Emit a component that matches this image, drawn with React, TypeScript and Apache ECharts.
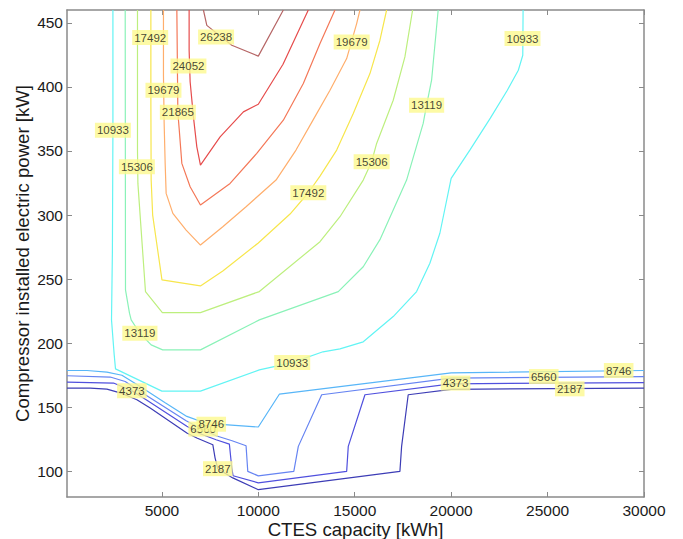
import React, { useEffect, useRef } from 'react';
import * as echarts from 'echarts';

// Contour levels and their colours (jet-like)
const levels = [2187, 4373, 6560, 8746, 10933, 13119, 15306, 17492, 19679, 21865, 24052, 26238];
const levelColors = ['#3d3db6', '#5050de', '#6684f2', '#58b6f8', '#62f4f4', '#8af2b8', '#bdef7e', '#f7e64c', '#ffae6c', '#f47858', '#e64c4c', '#b66666'];

// Contour lines [CTES capacity kWh, compressor power kW]
const c2187 = [[80, 165], [1285, 165], [2150, 164.2], [2839, 161.3], [3704, 155.9], [4393, 149.4], [6294, 129.9], [6812, 126], [7641, 120.8], [7760, 110.4], [7900, 102.1], [8677, 94.9], [10000, 85.7], [17343, 100], [17431, 119.5], [17773, 159.8], [20000, 164], [30000, 165]];
const c4373 = [[80, 169.7], [2492, 168.9], [3445, 162.9], [4185, 155.9], [6294, 135.2], [6983, 129.4], [7811, 124.7], [8500, 121.3], [8625, 102.6], [8692, 96.6], [10000, 91], [14582, 100], [14665, 119.5], [15530, 159.8], [20000, 168.3], [30000, 169.3]];
const c6560 = [[80, 174.6], [2321, 173.6], [3098, 170.1], [3875, 162.3], [6257, 139.5], [7034, 133.3], [7811, 127.8], [8640, 123.9], [9365, 120], [9454, 100], [10000, 96.5], [11841, 100], [12075, 119.5], [13287, 159.8], [20000, 172.8], [30000, 174]];
const c8746 = [[80, 178.7], [1114, 178.7], [2150, 177.5], [2927, 175], [3875, 166.2], [5170, 153.5], [6294, 142.9], [7501, 136.4], [8241, 136.4], [10000, 134.6], [11090, 160.2], [20000, 176.9], [30000, 178.7]];
const c10933 = [[2461, 460], [2461, 366], [2435, 272.7], [2388, 218.2], [2528, 190.9], [2595, 180], [4999, 162.6], [7000, 162.6], [10054, 179.2], [11759, 184.9], [13354, 193.3], [14235, 195.6], [15442, 201.1], [16996, 220.8], [18208, 240.3], [18897, 262.4], [19415, 285.8], [20000, 328.6], [20969, 350.7], [22032, 375.6], [22913, 397.4], [23483, 413], [23714, 424.7], [23730, 460]];
const c13119 = [[3098, 460], [3113, 241.6], [3320, 223.4], [3408, 218.2], [3859, 207.8], [4444, 198.7], [5040, 194.8], [7000, 194.8], [10054, 218.2], [14147, 240.3], [15442, 259.7], [16307, 280.8], [17690, 327.3], [18550, 371.5], [18726, 385.7], [18985, 405.2], [19327, 460]];
const c15306 = [[3735, 460], [3735, 350.7], [3756, 324.7], [4149, 240.3], [5025, 223.9], [7000, 223.9], [10054, 240.3], [13199, 279.2], [14235, 298.7], [15442, 327.3], [15877, 341.6], [16136, 355.9], [16996, 389.6], [17602, 423.4], [18001, 460]];
const c17492 = [[4429, 460], [4429, 389.6], [4444, 327.3], [4522, 300], [5004, 249.4], [7000, 244.7], [8159, 256.4], [10000, 278.2], [11645, 300.8], [12593, 317.4], [13199, 330.4], [14064, 350.7], [14924, 379.3], [15789, 410.4], [16307, 436.4], [16654, 460]];
const c19679 = [[5082, 460], [5082, 409], [5118, 371.5], [5170, 340.3], [5221, 316.9], [5569, 301.3], [6257, 288.3], [7000, 276.6], [8159, 290.9], [9365, 306.5], [10919, 327.3], [11955, 350.7], [12836, 374.1], [13717, 397.4], [14582, 422.1], [15100, 449.4], [15271, 460]];
const c21865 = [[5776, 460], [5828, 380], [5895, 367.6], [6035, 340.3], [6465, 322.1], [7000, 307.8], [8537, 324.7], [9920, 348.1], [11298, 374], [12334, 402.6], [13199, 433.8], [13976, 460]];
const c24052 = [[6413, 460], [6413, 428.6], [6465, 404], [6636, 376.6], [6812, 353.2], [7000, 339], [8019, 361], [9226, 380.5], [10000, 386.5], [11282, 417.7], [12593, 460]];
const c26238 = [[7154, 460], [7330, 448], [8625, 432.5], [10000, 424], [11298, 460]];
const contours = [c2187, c4373, c6560, c8746, c10933, c13119, c15306, c17492, c19679, c21865, c24052, c26238];

// Inline contour labels [x, y, level]
const labelPoints = [
  [7811, 439, 26238],
  [6377, 416.4, 24052],
  [5828, 380.3, 21865],
  [5082, 397.4, 19679],
  [14841, 435, 19679],
  [4393, 438.5, 17492],
  [12593, 317.4, 17492],
  [3704, 337.7, 15306],
  [15877, 341.6, 15306],
  [3859, 207.8, 13119],
  [18726, 385.7, 13119],
  [2461, 366.2, 10933],
  [11759, 184.9, 10933],
  [23699, 437.7, 10933],
  [28687, 178.7, 8746],
  [24802, 174, 6560],
  [3445, 162.9, 4373],
  [20228, 168.9, 4373],
  [7900, 102.1, 2187],
  [26149, 164.4, 2187],
  [7140, 133.0, 6560],
  [7560, 136.8, 8746],
];

const xTicks = [5000, 10000, 15000, 20000, 25000, 30000];
const yTicks = [100, 150, 200, 250, 300, 350, 400, 450];

const FONT = 'Liberation Sans, Arial, Helvetica, sans-serif';
const AXIS_COLOR = '#8a8a8a';

export default function App() {
  const ref = useRef<HTMLDivElement>(null);
  useEffect(() => {
    if (!ref.current) return;
    const chart = echarts.init(ref.current, undefined, { renderer: 'svg' });
    const axisLine = { show: true, onZero: false, lineStyle: { color: AXIS_COLOR, width: 1.5 } };
    const tick = (vals: number[]) => ({ show: true, inside: true, length: 5, customValues: vals, lineStyle: { color: AXIS_COLOR, width: 1 } });
    const lineSeries = contours.map((pts, i) => ({
      type: 'line',
      name: String(levels[i]),
      data: pts,
      showSymbol: false,
      symbol: 'none',
      silent: true,
      z: 2,
      lineStyle: { color: levelColors[i], width: 1.2 },
    }));
    const labelSeries = {
      type: 'scatter',
      silent: true,
      z: 5,
      symbolSize: 1,
      itemStyle: { color: 'rgba(0,0,0,0)' },
      data: labelPoints.map((p) => ({ value: p })),
      label: {
        show: true,
        position: 'inside',
        formatter: (p: any) => String(p.value[2]),
        backgroundColor: '#fcf98e',
        padding: [2, 2, 1, 2],
        color: '#151515',
        fontSize: 11.5,
        lineHeight: 12,
        fontFamily: FONT,
        textBorderWidth: 0,
      },
    };
    chart.setOption({
      animation: false,
      backgroundColor: '#ffffff',
      grid: { left: 67, right: 39, top: 10, bottom: 42, containLabel: false, outerBoundsMode: 'none' },
      xAxis: [
        {
          type: 'value', min: 80, max: 30000, position: 'bottom',
          axisLine, axisTick: tick(xTicks), splitLine: { show: false },
          axisLabel: { customValues: xTicks, formatter: (v: number) => String(v), fontSize: 15.5, lineHeight: 16, color: '#1a1a1a', margin: 5, fontFamily: FONT },
          name: 'CTES capacity [kWh]', nameLocation: 'middle', nameGap: 23, nameMoveOverlap: false,
          nameTextStyle: { fontSize: 18.6, lineHeight: 19, color: '#1a1a1a', fontFamily: FONT },
        },
        {
          type: 'value', min: 80, max: 30000, position: 'top',
          axisLine, axisTick: tick(xTicks), splitLine: { show: false }, axisLabel: { show: false },
        },
      ],
      yAxis: [
        {
          type: 'value', min: 80, max: 460, position: 'left',
          axisLine, axisTick: tick(yTicks), splitLine: { show: false },
          axisLabel: { customValues: yTicks, formatter: (v: number) => String(v), fontSize: 15.5, color: '#1a1a1a', margin: 4, fontFamily: FONT },
          name: 'Compressor installed electric power [kW]', nameLocation: 'middle', nameGap: 35, nameMoveOverlap: false,
          nameTextStyle: { fontSize: 18.6, color: '#1a1a1a', fontFamily: FONT },
        },
        {
          type: 'value', min: 80, max: 460, position: 'right',
          axisLine, axisTick: tick(yTicks), splitLine: { show: false }, axisLabel: { show: false },
        },
      ],
      series: [...lineSeries, labelSeries],
    });
    return () => chart.dispose();
  }, []);
  return (
    <div
      ref={ref}
      style={{ position: 'absolute', left: 0, top: 0, width: 683, height: 539, background: '#fff' }}
    />
  );
}
